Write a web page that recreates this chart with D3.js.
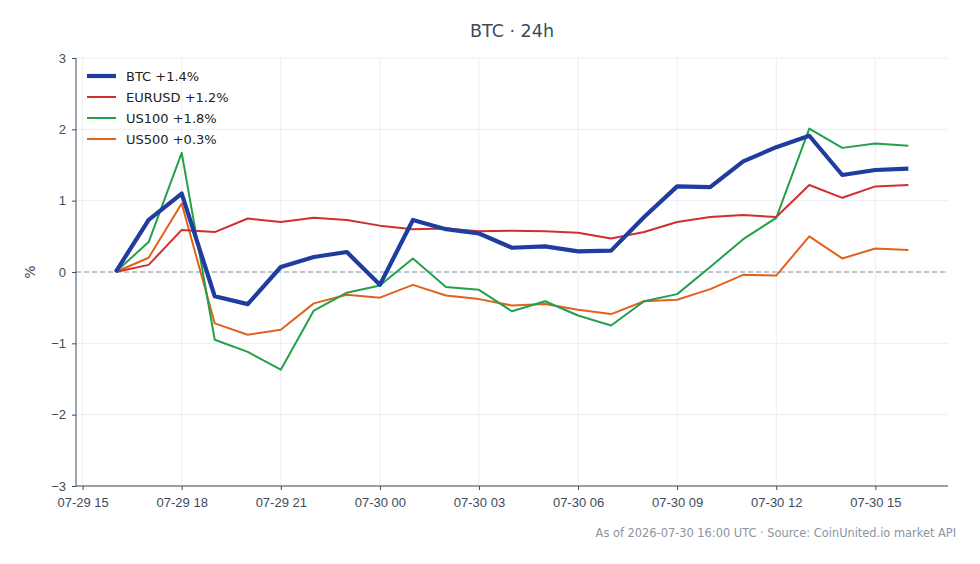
<!DOCTYPE html>
<html lang="en">
<head>
    <meta charset="UTF-8">
    <script src="https://d3js.org/d3.v7.min.js"></script>
    <title>BTC · 24h</title>
    <style>
        body { margin: 0; background: #fff; }
        svg { display: block; font-family: "DejaVu Sans", sans-serif; }
        .tick text { fill: #3d4b5c; font-size: 13px; }
    </style>
</head>
<body>
    <svg width="980" height="564"></svg>

    <script>
        // hourly % change since 07-29 16:00 UTC
        const startHour = Date.UTC(2026, 6, 29, 16);
        const btc = [0, 0.73, 1.10, -0.34, -0.45, 0.07, 0.21, 0.28, -0.18, 0.73, 0.60, 0.54, 0.34, 0.36, 0.29, 0.30, 0.77, 1.20, 1.19, 1.55, 1.75, 1.91, 1.36, 1.43, 1.45];
        const eurusd = [0, 0.10, 0.59, 0.56, 0.75, 0.70, 0.76, 0.73, 0.65, 0.60, 0.61, 0.57, 0.58, 0.57, 0.55, 0.47, 0.56, 0.70, 0.77, 0.80, 0.77, 1.22, 1.04, 1.20, 1.22];
        const us100 = [0, 0.42, 1.67, -0.95, -1.12, -1.37, -0.54, -0.29, -0.19, 0.19, -0.21, -0.25, -0.55, -0.41, -0.61, -0.75, -0.41, -0.31, 0.07, 0.46, 0.76, 2.01, 1.74, 1.80, 1.77];
        const us500 = [0, 0.20, 0.96, -0.72, -0.88, -0.81, -0.44, -0.32, -0.36, -0.18, -0.33, -0.38, -0.47, -0.45, -0.53, -0.59, -0.41, -0.39, -0.24, -0.04, -0.05, 0.50, 0.19, 0.33, 0.31];
        const seriesNames = ['BTC +1.4%', 'EURUSD +1.2%', 'US100 +1.8%', 'US500 +0.3%'];
        const yTicks = [-3, -2, -1, 0, 1, 2, 3];

        const series = [
            { name: seriesNames[0], values: btc, color: '#1f3d9e', width: 4.2 },
            { name: seriesNames[1], values: eurusd, color: '#d12f2f', width: 2 },
            { name: seriesNames[2], values: us100, color: '#23a04a', width: 2 },
            { name: seriesNames[3], values: us500, color: '#e0621c', width: 2 }
        ];

        const hour = 3600 * 1000;
        const margin = { top: 58, right: 32, bottom: 78, left: 76 };
        const width = 980, height = 564;
        const svg = d3.select('svg');

        // matplotlib-style 5% padding on the time range
        const xScale = d3.scaleUtc()
            .domain([new Date(startHour - 1.2 * hour), new Date(startHour + 25.2 * hour)])
            .range([margin.left, width - margin.right]);

        const yScale = d3.scaleLinear()
            .domain([-3, 3])
            .range([height - margin.bottom, margin.top]);

        const xTicks = d3.range(8).map(i => new Date(startHour - hour + i * 3 * hour))
            .concat([new Date(startHour + 23 * hour)]);

        // grid
        svg.append('g')
            .selectAll('line.v')
            .data(xTicks)
            .enter().append('line')
            .attr('x1', d => xScale(d)).attr('x2', d => xScale(d))
            .attr('y1', margin.top).attr('y2', height - margin.bottom)
            .attr('stroke', '#e6e9ee').attr('stroke-width', 0.8);

        svg.append('g')
            .selectAll('line.h')
            .data(yTicks)
            .enter().append('line')
            .attr('x1', margin.left).attr('x2', width - margin.right)
            .attr('y1', d => yScale(d)).attr('y2', d => yScale(d))
            .attr('stroke', '#e6e9ee').attr('stroke-width', 0.8);

        // zero line
        svg.append('line')
            .attr('x1', margin.left).attr('x2', width - margin.right)
            .attr('y1', yScale(0)).attr('y2', yScale(0))
            .attr('stroke', '#8a98ad').attr('stroke-width', 1)
            .attr('stroke-dasharray', '5,3');

        const xAxis = d3.axisBottom(xScale)
            .tickValues(xTicks)
            .tickFormat(d3.utcFormat('%m-%d %H'))
            .tickSize(4).tickPadding(8);

        const yAxis = d3.axisLeft(yScale)
            .tickValues(yTicks)
            .tickFormat(d => d < 0 ? '\u2212' + Math.abs(d) : d)
            .tickSize(4).tickPadding(6);

        const gx = svg.append('g')
            .attr('transform', `translate(0, ${height - margin.bottom})`)
            .call(xAxis);
        gx.select('.domain').attr('d', `M${margin.left},0H${width - margin.right}`);

        const gy = svg.append('g')
            .attr('transform', `translate(${margin.left}, 0)`)
            .call(yAxis);
        gy.select('.domain').attr('d', `M0,${margin.top}V${height - margin.bottom}`);

        svg.selectAll('.domain, .tick line').attr('stroke', '#3d4b5c').attr('stroke-width', 1);

        const line = d3.line()
            .x((d, i) => xScale(new Date(startHour + i * hour)))
            .y(d => yScale(d));

        svg.append('g')
            .selectAll('path')
            .data(series.slice().reverse())
            .enter().append('path')
            .attr('d', d => line(d.values))
            .attr('fill', 'none')
            .attr('stroke', d => d.color)
            .attr('stroke-width', d => d.width)
            .attr('stroke-linejoin', 'round');

        // legend
        const legend = svg.append('g')
            .attr('transform', 'translate(87, 76)');
        const items = legend.selectAll('g')
            .data(series)
            .enter().append('g')
            .attr('transform', (d, i) => `translate(0, ${i * 21})`);
        items.append('line')
            .attr('x1', 0).attr('x2', 29)
            .attr('stroke', d => d.color)
            .attr('stroke-width', d => d.width);
        items.append('text')
            .attr('x', 39).attr('dy', '0.35em')
            .attr('fill', '#222')
            .style('font-size', '13px')
            .text(d => d.name);

        svg.append('text')
            .attr('x', (margin.left + width - margin.right) / 2)
            .attr('y', 37)
            .attr('text-anchor', 'middle')
            .attr('fill', '#3d4b5c')
            .style('font-size', '17.5px')
            .text('BTC · 24h');

        svg.append('text')
            .attr('transform', `translate(35, ${yScale(0)}) rotate(-90)`)
            .attr('text-anchor', 'middle')
            .attr('fill', '#3d4b5c')
            .style('font-size', '14px')
            .text('%');

        svg.append('text')
            .attr('x', 956)
            .attr('y', 537)
            .attr('text-anchor', 'end')
            .attr('fill', '#8a94a0')
            .style('font-size', '11.4px')
            .text('As of 2026-07-30 16:00 UTC · Source: CoinUnited.io market API');
    </script>
</body>
</html>
